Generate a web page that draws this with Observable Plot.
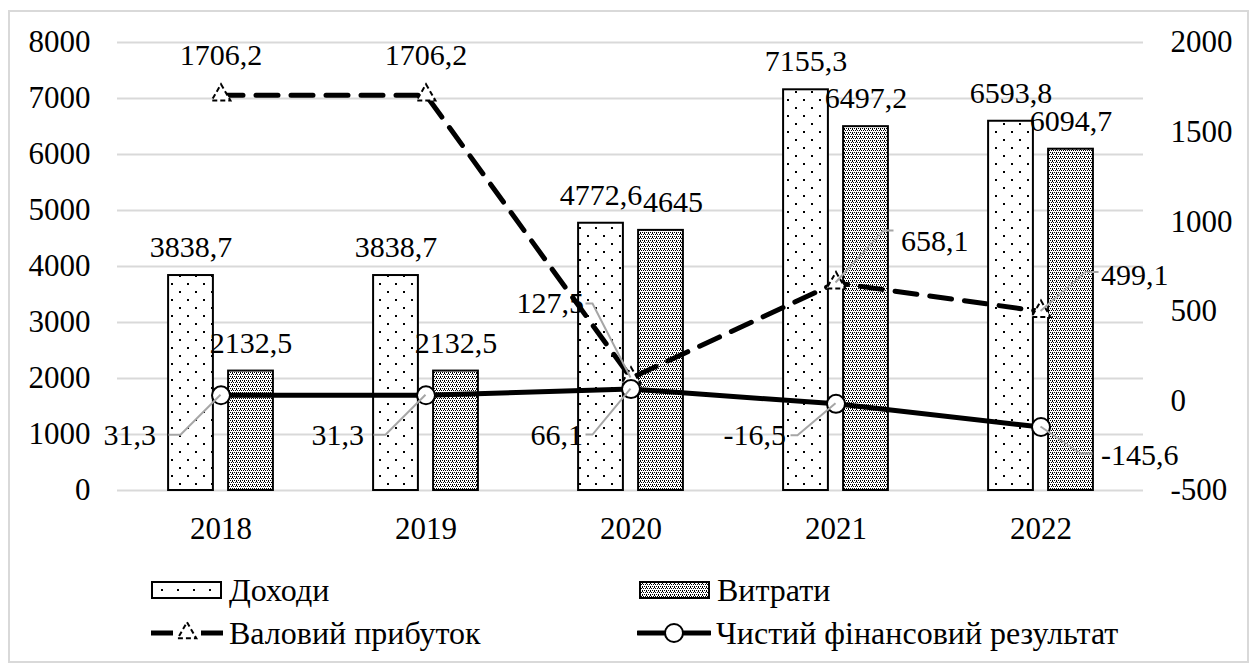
<!DOCTYPE html>
<html>
<head>
<meta charset="utf-8">
<script src="https://cdn.jsdelivr.net/npm/d3@7"></script>
<script src="https://cdn.jsdelivr.net/npm/@observablehq/plot@0.6"></script>
<style>
  body { margin: 0; background: #fff; font-family: 'Liberation Serif', serif; }
  #frame { position: absolute; left: 8px; top: 10px; width: 1241px; height: 653px; border: 2px solid #d9d9d9; box-sizing: border-box; }
  #chart { position: absolute; left: 0; top: 0; }
  .item { position: absolute; display: flex; align-items: center; height: 34px; font-family: 'Liberation Serif', serif; font-size: 32px; color: #000; white-space: nowrap; }
  .item svg { margin-right: 5px; }
  #chart svg text { font-family: 'Liberation Serif', serif; }
</style>
</head>
<body>
<div id="frame"></div>
<div id="chart"></div>
<div id="legend">
  <div class="item" style="left:150px;top:573px"><svg width="74" height="24" class="sw" data-kind="sparse"></svg><span>Доходи</span></div>
  <div class="item" style="left:638px;top:573px"><svg width="74" height="24" class="sw" data-kind="dense"></svg><span>Витрати</span></div>
  <div class="item" style="left:150px;top:616px"><svg width="74" height="24" class="sw" data-kind="dash"></svg><span>Валовий прибуток</span></div>
  <div class="item" style="left:637px;top:616px"><svg width="74" height="24" class="sw" data-kind="circle"></svg><span>Чистий фінансовий результат</span></div>
</div>
<script>
// Financial results by year (thousand UAH)
const years = ["2018", "2019", "2020", "2021", "2022"];
const income = [3838.7, 3838.7, 4772.6, 7155.3, 6593.8];          // Доходи (left axis)
const expenses = [2132.5, 2132.5, 4645, 6497.2, 6094.7];          // Витрати (left axis)
const grossProfit = [1706.2, 1706.2, 127.5, 658.1, 499.1];        // Валовий прибуток (right axis)
const netResult = [31.3, 31.3, 66.1, -16.5, -145.6];              // Чистий фінансовий результат (right axis)

const leftTicks = [0, 1000, 2000, 3000, 4000, 5000, 6000, 7000, 8000];
const rightTicks = [-500, 0, 500, 1000, 1500, 2000];

// Label placement for the two line series: pixel offset of the text from its point
// and the leader line path (relative to the point)
const grossLabelLayout = [
  {dx: 0, dy: -40, anchor: "middle", leader: null},
  {dx: 0, dy: -40, anchor: "middle", leader: null},
  {dx: -47, dy: -75, anchor: "end", leader: [[-38, -74], [-45, -74]]},
  {dx: 65, dy: -42, anchor: "start", leader: [[48, -52], [58, -52]]},
  {dx: 60, dy: -36, anchor: "start", leader: [[45, -39], [58, -39]]}
];
const netLabelLayout = [
  {dx: -65, dy: 40, anchor: "end", leader: [[-40, 40], [-52, 40]]},
  {dx: -62, dy: 40, anchor: "end", leader: [[-40, 40], [-52, 40]]},
  {dx: -48, dy: 46, anchor: "end", leader: [[-38, 46], [-45, 46]]},
  {dx: -50, dy: 32, anchor: "end", leader: [[-38, 32], [-45, 32]]},
  {dx: 60, dy: 28, anchor: "start", leader: [[40, 27], [52, 27]]}
];
// Extra horizontal nudge of the expense labels so neighbours do not collide
const expenseLabelNudge = [0, 0, 12, 0, 0];

// Right axis (-500..2000) is drawn on the left scale (0..8000)
const leftMax = 8000, rightMin = -500, rightMax = 2000;
const k = leftMax / (rightMax - rightMin);
const toLeft = v => (v - rightMin) * k;
const fmt = v => String(v).replace(".", ",");

const rows = years.map((year, i) => ({
  year, income: income[i], expenses: expenses[i], gross: grossProfit[i], net: netResult[i]
}));

const width = 1254, height = 545;
const marginLeft = 117, marginRight = 111, marginTop = 42, marginBottom = 55;
const half = (width - marginLeft - marginRight) / years.length / 2;
const barW = 45, barGap = 15;
const font = "'Liberation Serif', serif";
const axisFont = 31;

function leaderMark(layout, accessor) {
  return (index, scales) => {
    const sx = scales.x, sy = scales.y;
    const bw = typeof sx.bandwidth === "function" ? sx.bandwidth() : (sx.bandwidth || 0);
    const g = d3.create("svg:g")
      .attr("fill", "none").attr("stroke", "#a6a6a6").attr("stroke-width", 2);
    rows.forEach((d, i) => {
      const l = layout[i];
      if (!l.leader) return;
      const cx = sx(d.year) + bw / 2, cy = sy(accessor(d));
      g.append("polyline")
        .attr("points", [[0, 0], ...l.leader].map(([dx, dy]) => `${cx + dx},${cy + dy}`).join(" "));
    });
    return g.node();
  };
}

function labelMarks(layout, accessor, key) {
  return rows.map((d, i) => Plot.text([d], {
    x: "year", y: accessor, text: () => fmt(d[key]), fontFamily: font,
    dx: layout[i].dx, dy: layout[i].dy, textAnchor: layout[i].anchor, fill: "black"
  }));
}

const grossY = d => toLeft(d.gross);
const netY = d => toLeft(d.net);

const svg = Plot.plot({
  width, height, marginLeft, marginRight, marginTop, marginBottom,
  style: {fontFamily: font, fontSize: "30px", background: "transparent", overflow: "visible"},
  x: {domain: years, padding: 0, axis: null},
  y: {domain: [0, leftMax], axis: null},
  marks: [
    Plot.gridY(leftTicks, {stroke: "#d9d9d9", strokeOpacity: 1, strokeWidth: 2}),
    Plot.axisX({tickSize: 0, tickPadding: 26, label: null, fill: "black", fontFamily: font, fontSize: axisFont}),
    Plot.axisY(leftTicks, {anchor: "left", tickSize: 0, tickPadding: 27, label: null, fill: "black", fontFamily: font, fontSize: axisFont,
      tickFormat: d => String(d)}),
    Plot.axisY(rightTicks.map(toLeft), {anchor: "right", tickSize: 0, tickPadding: 27, label: null, fill: "black", fontFamily: font, fontSize: axisFont,
      tickFormat: d => String(Math.round(d / k + rightMin))}),
    Plot.barY(rows, {x: "year", y: "income", fill: "url(#dotsSparse)", stroke: "black", strokeWidth: 2,
      insetLeft: half - barGap / 2 - barW, insetRight: half + barGap / 2}),
    Plot.barY(rows, {x: "year", y: "expenses", fill: "url(#dotsDense)", stroke: "black", strokeWidth: 2,
      insetLeft: half + barGap / 2, insetRight: half - barGap / 2 - barW}),
    Plot.text(rows, {x: "year", y: "income", text: d => fmt(d.income), fontFamily: font,
      dx: -(barGap / 2 + barW / 2), dy: -28, fill: "black"}),
    ...rows.map((d, i) => Plot.text([d], {x: "year", y: "expenses", text: () => fmt(d.expenses), fontFamily: font,
      dx: barGap / 2 + barW / 2 + expenseLabelNudge[i], dy: -28, fill: "black"})),
    Plot.line(rows, {x: "year", y: grossY, stroke: "black", strokeWidth: 5, strokeDasharray: "22,13"}),
    Plot.dot(rows, {x: "year", y: grossY, symbol: "triangle", r: 7, fill: "white", stroke: "black", strokeWidth: 2, strokeDasharray: "5,3"}),
    Plot.line(rows, {x: "year", y: netY, stroke: "black", strokeWidth: 5}),
    Plot.dot(rows, {x: "year", y: netY, r: 9, fill: "white", stroke: "black", strokeWidth: 2}),
    leaderMark(grossLabelLayout, grossY),
    leaderMark(netLabelLayout, netY),
    ...labelMarks(grossLabelLayout, grossY, "gross"),
    ...labelMarks(netLabelLayout, netY, "net")
  ]
});
svg.style.fontFamily = font;

// Bar fill patterns: sparse dots for income, fine dots for expenses
function addPatterns(sel, suffix) {
  const defs = sel.insert("defs", ":first-child");
  const p1 = defs.append("pattern").attr("id", "dotsSparse" + suffix)
    .attr("patternUnits", "userSpaceOnUse").attr("width", 16).attr("height", 16);
  p1.append("rect").attr("width", 16).attr("height", 16).attr("fill", "white");
  p1.append("rect").attr("x", 3).attr("y", 3).attr("width", 2).attr("height", 2).attr("fill", "black");
  p1.append("rect").attr("x", 11).attr("y", 11).attr("width", 2).attr("height", 2).attr("fill", "black");
  const p2 = defs.append("pattern").attr("id", "dotsDense" + suffix)
    .attr("patternUnits", "userSpaceOnUse").attr("width", 4).attr("height", 4);
  p2.append("rect").attr("width", 4).attr("height", 4).attr("fill", "white");
  for (const [x, y] of [[0, 0], [2, 0], [1, 2], [3, 2], [0, 1]]) {
    p2.append("rect").attr("x", x).attr("y", y).attr("width", 1).attr("height", 1).attr("fill", "black");
  }
}
addPatterns(d3.select(svg), "");
document.getElementById("chart").appendChild(svg);

// Legend swatches
d3.selectAll(".sw").each(function (_, i) {
  const s = d3.select(this), kind = this.dataset.kind;
  if (kind === "sparse" || kind === "dense") {
    addPatterns(s, "L" + i);
    s.append("rect").attr("x", 2).attr("y", 4).attr("width", 69).attr("height", 16)
      .attr("fill", `url(#${kind === "sparse" ? "dotsSparse" : "dotsDense"}L${i})`)
      .attr("stroke", "black").attr("stroke-width", 2);
  } else if (kind === "dash") {
    s.append("line").attr("x1", 1).attr("x2", 73).attr("y1", 12).attr("y2", 12)
      .attr("stroke", "black").attr("stroke-width", 5).attr("stroke-dasharray", "22,28");
    s.append("path").attr("d", d3.symbol(d3.symbolTriangle, 150)()).attr("transform", "translate(37,12)")
      .attr("fill", "white").attr("stroke", "black").attr("stroke-width", 2).attr("stroke-dasharray", "5,3");
  } else {
    s.append("line").attr("x1", 1).attr("x2", 73).attr("y1", 12).attr("y2", 12)
      .attr("stroke", "black").attr("stroke-width", 5).attr("stroke-linecap", "round");
    s.append("circle").attr("cx", 37).attr("cy", 12).attr("r", 9)
      .attr("fill", "white").attr("stroke", "black").attr("stroke-width", 2);
  }
});
</script>
</body>
</html>
